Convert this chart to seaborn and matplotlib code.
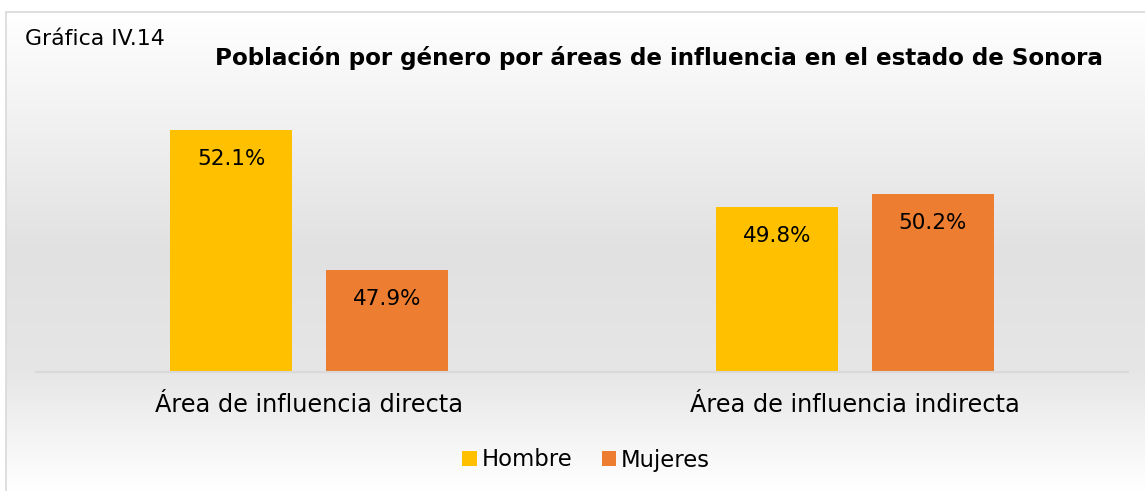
import numpy as np
import pandas as pd
import seaborn as sns
import matplotlib.pyplot as plt
from matplotlib.colors import LinearSegmentedColormap

# datos
areas = ["Área de influencia directa", "Área de influencia indirecta"]
generos = ["Hombre", "Mujeres"]
hombre = [52.1, 49.8]
mujeres = [47.9, 50.2]
colores = ["#FFC000", "#ED7D31"]

df = pd.DataFrame({
    "area": areas * 2,
    "genero": ["Hombre"] * 2 + ["Mujeres"] * 2,
    "pct": hombre + mujeres,
})

sns.set_theme(style="white")
plt.rcParams["font.family"] = ["DejaVu Sans"]
plt.rcParams["text.color"] = "#000000"

W, H = 1145, 491
fig = plt.figure(figsize=(W / 100, H / 100), dpi=100)

# fondo degradado (blanco -> gris -> blanco)
bg = fig.add_axes([5.5 / W, 0, 1 - 5.5 / W, 1 - 12 / H], zorder=-10)
cmap = LinearSegmentedColormap.from_list(
    "fondo", [(0, "#FFFFFF"), (0.5, "#E1E1E1"), (0.75, "#E6E6E6"), (1, "#FFFFFF")])
grad = np.linspace(0, 1, 256).reshape(-1, 1)
bg.imshow(grad, aspect="auto", cmap=cmap, extent=[0, 1, 0, 1], origin="upper")
bg.axis("off")

# borde del cuadro
fig.add_artist(plt.Line2D([5.5 / W, 1], [1 - 12 / H] * 2, color="#D9D9D9", lw=1.2))
fig.add_artist(plt.Line2D([5.5 / W] * 2, [0, 1 - 12 / H], color="#D9D9D9", lw=1.2))

# area de la grafica
x0, x1 = 36, 1128
y_top, y_base = 67, 372
ax = fig.add_axes([x0 / W, 1 - y_base / H, (x1 - x0) / W, (y_base - y_top) / H])
ax.patch.set_alpha(0)

sns.barplot(data=df, x="area", y="pct", hue="genero", palette=colores,
            width=0.571, gap=0.218, saturation=1, linewidth=0, ax=ax)
ax.set_ylim(44.84, 54.0)
ax.set_xlim(-0.5, 1.5)

for cont in ax.containers:
    for bar in cont:
        v = bar.get_height()
        ax.annotate(f"{v:.1f}%", (bar.get_x() + bar.get_width() / 2, v),
                    xytext=(0, -21), textcoords="offset points",
                    ha="center", va="center", fontsize=15.5, color="#000000")

ax.set_xlabel("")
ax.set_ylabel("")
ax.set_yticks([])
ax.tick_params(axis="x", length=0, pad=15, labelsize=17.3, labelcolor="#000000")
for s in ["top", "right", "left"]:
    ax.spines[s].set_visible(False)
ax.spines["bottom"].set_color("#D9D9D9")
ax.spines["bottom"].set_linewidth(1.5)

handles, labels = ax.get_legend_handles_labels()
ax.get_legend().remove()
leg = fig.legend(handles, labels, loc="center", bbox_to_anchor=(586 / W, 1 - 460 / H),
                 ncol=2, frameon=False, fontsize=16.4, handlelength=0.65, handleheight=0.65,
                 handletextpad=0.2, columnspacing=1.3)
for t in leg.get_texts():
    t.set_color("#000000")

fig.text(659 / W, 1 - 58 / H, "Población por género por áreas de influencia en el estado de Sonora",
         ha="center", va="center", fontsize=16.6, fontweight="bold", color="#000000")
fig.text(25 / W, 1 - 39 / H, "Gráfica IV.14", ha="left", va="center", fontsize=15.8, color="#000000")

fig.savefig("out.png", dpi=100)
